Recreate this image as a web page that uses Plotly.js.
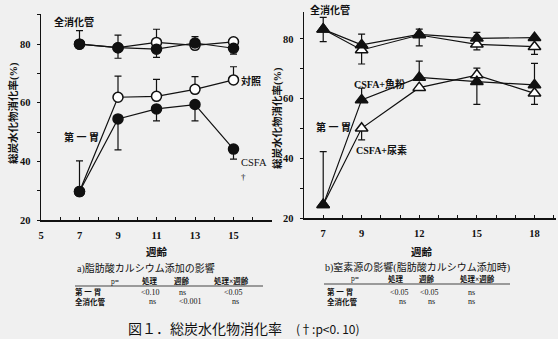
<!DOCTYPE html>
<html><head><meta charset="utf-8">
<script src="https://cdn.plot.ly/plotly-3.0.1.min.js"></script>
<style>html,body{margin:0;padding:0;background:#f0f0f0;}</style>
</head><body><div id="chart" style="width:558px;height:339px;"></div>
<script>
// ---- data: a) 脂肪酸カルシウム添加の影響 ----
const weeksA = [7, 9, 11, 13, 15];
const ticksA = [5, 7, 9, 11, 13, 15];
const ctrlTotal = [80.0, 78.8, 80.6, 79.6, 80.8];
const ctrlTotalErrUp = [0, 4.3, 4.5, 0, 0];
const csfaTotal = [80.0, 78.8, 78.3, 80.4, 78.6];
const csfaTotalErrUp = [4.6, 0, 0, 2.2, 0];
const csfaTotalErrDn = [0, 3.6, 2.8, 0, 2.0];
const ctrlRumen = [29.7, 61.9, 62.2, 64.6, 67.8];
const ctrlRumenErrUp = [0, 7.2, 5.8, 4.3, 4.5];
const csfaRumen = [29.7, 54.5, 57.9, 59.4, 44.2];
const csfaRumenErrUp = [10.5, 0, 0, 0, 0];
const csfaRumenErrDn = [0, 10.6, 4.1, 5.6, 3.4];

// ---- data: b) 窒素源の影響 ----
const weeksB = [7, 9, 12, 15, 18];
const ticksB = [7, 9, 12, 15, 18];
const fishTotal = [83.2, 78.0, 81.5, 80.2, 80.4];
const fishTotalErrUp = [4.0, 3.6, 1.8, 2.0, 0];
const ureaTotal = [83.2, 76.3, 81.3, 78.2, 77.4];
const ureaTotalErrDn = [4.1, 4.7, 3.6, 1.9, 2.6];
const fishRumen = [24.5, 59.6, 67.1, 65.7, 64.6];
const fishRumenErrUp = [17.8, 3.9, 5.5, 0, 7.2];
const fishRumenErrDn = [0, 0, 0, 7.6, 0];
const ureaRumen = [24.5, 50.1, 63.7, 67.9, 61.8];
const ureaRumenErrUp = [0, 0, 0, 2.3, 0];
const ureaRumenErrDn = [0, 3.9, 0, 0, 3.7];
const yTicks = [20, 40, 60, 80];

const W = 558, H = 339;
const px = x => x / W, py = y => 1 - y / H;
const INK = '#111';
const FONT = 'Liberation Serif, "Noto Sans CJK JP", serif';
const JFONT = '"Noto Sans CJK JP", sans-serif';

function zeros(n){ return new Array(n).fill(0); }
function series(x, y, up, dn, symbol, fill, size, xa, ya){
  return {
    x: x, y: y, xaxis: xa, yaxis: ya, type: 'scatter', mode: 'lines+markers',
    line: {color: INK, width: 1.2},
    marker: {symbol: symbol, size: size, color: fill, line: {color: INK, width: 1.5}},
    error_y: {type: 'data', symmetric: false, array: up, arrayminus: dn,
              color: INK, thickness: 1.2, width: 3.5},
    showlegend: false, hoverinfo: 'skip'
  };
}
const n = 5;
const data = [
  series(weeksA, ctrlTotal, ctrlTotalErrUp, zeros(n), 'circle', '#fff', 10, 'x', 'y'),
  series(weeksA, csfaTotal, csfaTotalErrUp, csfaTotalErrDn, 'circle', INK, 10, 'x', 'y'),
  series(weeksA, ctrlRumen, ctrlRumenErrUp, zeros(n), 'circle', '#fff', 10, 'x', 'y'),
  series(weeksA, csfaRumen, csfaRumenErrUp, csfaRumenErrDn, 'circle', INK, 10, 'x', 'y'),
  series(weeksB, ureaTotal, zeros(n), ureaTotalErrDn, 'triangle-up', '#fff', 11, 'x2', 'y2'),
  series(weeksB, fishTotal, fishTotalErrUp, zeros(n), 'triangle-up', INK, 11, 'x2', 'y2'),
  series(weeksB, ureaRumen, ureaRumenErrUp, ureaRumenErrDn, 'triangle-up', '#fff', 11, 'x2', 'y2'),
  series(weeksB, fishRumen, fishRumenErrUp, fishRumenErrDn, 'triangle-up', INK, 11, 'x2', 'y2')
];

const tickfont = {family: FONT, size: 10.5, color: INK, weight: 'bold'};
function xax(domain, range, vals, t0, anchor){
  return {domain: domain, range: range, anchor: anchor, showline: true, linewidth: 1.5, linecolor: INK,
    ticks: 'inside', ticklen: 3, tickwidth: 1, tickcolor: INK, tickmode: 'array', tickvals: vals,
    minor: {tick0: t0, dtick: 1, ticks: 'inside', ticklen: 3, tickwidth: 1, tickcolor: INK},
    showgrid: false, zeroline: false, tickfont: tickfont, ticklabelstandoff: 5, fixedrange: true};
}
function yax(domain, range, anchor){
  return {domain: domain, range: range, anchor: anchor, showline: true, linewidth: 1.5, linecolor: INK,
    ticks: 'outside', ticklen: 3, tickwidth: 1, tickcolor: INK, tickmode: 'array', tickvals: yTicks,
    minor: {tick0: 0, dtick: 10, ticks: 'outside', ticklen: 3, tickwidth: 1, tickcolor: INK},
    showgrid: false, zeroline: false, tickfont: tickfont, ticklabelstandoff: 4, fixedrange: true};
}

const anns = [];
function ann(text, x, y, o){
  o = o || {};
  anns.push({text: text, xref: 'paper', yref: 'paper', x: px(x), y: py(y),
    xanchor: o.xa || 'left', yanchor: 'middle', showarrow: false, textangle: o.rot || 0,
    font: {family: o.family || FONT, size: o.size || 10, color: INK, weight: o.weight || 'bold'}});
}
// panel a labels
ann('全消化管', 52, 22, {size: 10});
ann('第 一 胃', 62, 137, {size: 10});
ann('対照', 239, 81, {size: 10});
ann('CSFA', 239, 162, {size: 10.5, weight: 'normal'});
ann('†', 243, 177, {size: 9, weight: 'normal', xa: 'center'});
ann('総炭水化物消化率(%)', 14, 113, {size: 10.5, rot: -90, xa: 'center'});
// panel b labels
ann('全消化管', 308, 10, {size: 10});
ann('CSFA+魚粉', 352, 84, {size: 10});
ann('第 一 胃', 314, 127, {size: 10});
ann('CSFA+尿素', 354, 150, {size: 10});
ann('総炭水化物消化率(%)', 277, 118, {size: 10.5, rot: -90, xa: 'center'});
// x titles
ann('週齢', 157, 252, {size: 10.5, xa: 'center'});
ann('週齢', 422, 252, {size: 10.5, xa: 'center'});
// captions
ann('a)脂肪酸カルシウム添加の影響', 75, 268.5, {size: 10, weight: 'normal'});
ann('b)窒素源の影響(脂肪酸カルシウム添加時)', 323, 267.5, {size: 10, weight: 'normal'});
// table a
const tA_head = ['p=', '処理', '週齢', '処理×週齢'];
const tA_headX = [115, 150, 182, 231];
const tA_rows = ['第 一 胃', '全消化管'];
const tA_r1 = ['&lt;0.10', 'ns', '&lt;0.05'];
const tA_r2 = ['ns', '&lt;0.001', 'ns'];
const tA_r1X = [150, 182, 233];
const tA_r2X = [152, 190, 235];
tA_head.forEach((t, i) => ann(t, tA_headX[i], 281, {size: 7.5, xa: 'center', weight: i ? 'bold' : 'normal'}));
ann(tA_rows[0], 73, 292, {size: 7.5});
ann(tA_rows[1], 73, 301.5, {size: 7.5});
tA_r1.forEach((t, i) => ann(t, tA_r1X[i], 292, {size: 8, xa: 'center', weight: 'normal'}));
tA_r2.forEach((t, i) => ann(t, tA_r2X[i], 301.5, {size: 8, xa: 'center', weight: 'normal'}));
// table b
const tB_headX = [355, 396, 427, 477];
const tB_r1 = ['&lt;0.05', '&lt;0.05', 'ns'];
const tB_r2 = ['ns', 'ns', 'ns'];
const tB_r1X = [399, 430, 471];
const tB_r2X = [402, 431, 471];
tA_head.forEach((t, i) => ann(t, tB_headX[i], 278.5, {size: 7.5, xa: 'center', weight: i ? 'bold' : 'normal'}));
ann(tA_rows[0], 325, 292, {size: 7.5});
ann(tA_rows[1], 325, 301.5, {size: 7.5});
tB_r1.forEach((t, i) => ann(t, tB_r1X[i], 292, {size: 8, xa: 'center', weight: 'normal'}));
tB_r2.forEach((t, i) => ann(t, tB_r2X[i], 301.5, {size: 8, xa: 'center', weight: 'normal'}));
// figure caption
ann('図１．総炭水化物消化率', 126, 328, {size: 14, weight: 'normal', family: JFONT});
ann('(†:p&lt;0. 10)', 294, 328, {size: 12, weight: 'normal', family: JFONT});

const shapes = [
  {type: 'line', xref: 'paper', yref: 'paper', x0: px(75), x1: px(263), y0: py(286), y1: py(286), line: {color: '#444', width: 1}},
  {type: 'line', xref: 'paper', yref: 'paper', x0: px(324), x1: px(510), y0: py(284), y1: py(284), line: {color: '#444', width: 1}}
];

const layout = {
  width: W, height: H, margin: {l: 0, r: 0, t: 0, b: 0},
  paper_bgcolor: '#f0f0f0', plot_bgcolor: 'rgba(0,0,0,0)',
  xaxis: xax([px(41), px(272)], [5, 17], ticksA, 5, 'y'),
  yaxis: yax([py(220), py(14)], [20, 90.3], 'x'),
  xaxis2: xax([px(304), px(556)], [6, 19.12], ticksB, 6, 'y2'),
  yaxis2: yax([py(218.3), py(11.7)], [20, 89.1], 'x2'),
  annotations: anns, shapes: shapes
};
Plotly.newPlot('chart', data, layout, {displayModeBar: false, staticPlot: true});
</script></body></html>
